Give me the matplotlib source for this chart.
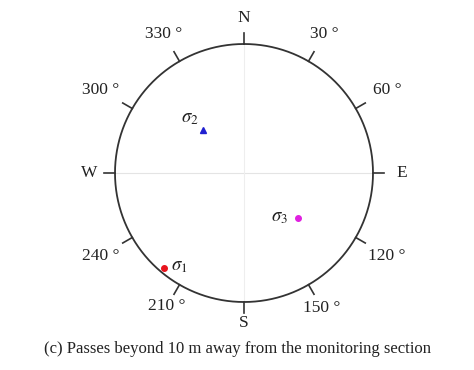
import numpy as np
import matplotlib
matplotlib.use("Agg")
import matplotlib.pyplot as plt

# data: principal stress directions (trend, plunge in degrees)
stress_names = ["$\\sigma_1$", "$\\sigma_2$", "$\\sigma_3$"]
trends = [220.0, 316.0, 130.0]
plunges = [2.2, 40.6, 32.8]
colors = ["#e8141e", "#2020d0", "#e020e0"]
markers = ["o", "^", "o"]

tick_angles = [30, 60, 120, 150, 210, 240, 300, 330]
tick_labels = ["30 °", "60 °", "120 °", "150 °", "210 °", "240 °", "300 °", "330 °"]
cardinal_angles = [0, 90, 180, 270]
cardinal_labels = ["N", "E", "S", "W"]
caption = "(c) Passes beyond 10 m away from the monitoring section"

plt.rcParams["font.family"] = ["Liberation Serif", "DejaVu Serif"]
plt.rcParams["mathtext.fontset"] = "stix"

W, H = 474, 370
cx, cy, R = 244, 173, 129
fig = plt.figure(figsize=(W / 100, H / 100), dpi=100)
ax = fig.add_axes([0, 0, 1, 1])
ax.set_xlim(-cx / R, (W - cx) / R)
ax.set_ylim(-(H - cy) / R, cy / R)
ax.axis("off")

def proj(az, r):
    a = np.radians(az)
    return r * np.sin(a), r * np.cos(a)

# faint crosshair
ax.plot([-1, 1], [0, 0], color="#e4e4e4", lw=0.8, zorder=1)
ax.plot([0, 0], [-1, 1], color="#eeeeee", lw=0.8, zorder=1)

# circle
t = np.linspace(0, 360, 721)
xs, ys = proj(t, 1.0)
ax.plot(xs, ys, color="#333333", lw=1.3, zorder=2)

tl = 11 / R
label_r = {30: 1.245, 60: 1.28, 120: 1.28, 150: 1.21, 210: 1.19, 240: 1.28, 300: 1.285, 330: 1.245}
for a, lab in zip(tick_angles, tick_labels):
    x0, y0 = proj(a, 1.0)
    x1, y1 = proj(a, 1.0 + tl)
    ax.plot([x0, x1], [y0, y1], color="#333333", lw=1.2)
    xl, yl = proj(a, label_r[a])
    ax.text(xl, yl, lab, ha="center", va="center", fontsize=12.5, color="#222222")

card_r = {0: 1.2, 90: 1.22, 180: 1.165, 270: 1.2}
for a, lab in zip(cardinal_angles, cardinal_labels):
    x0, y0 = proj(a, 1.0)
    x1, y1 = proj(a, 1.0 + tl)
    ax.plot([x0, x1], [y0, y1], color="#333333", lw=1.2)
    xl, yl = proj(a, card_r[a])
    ax.text(xl, yl, lab, ha="center", va="center", fontsize=12.5, color="#222222")

# stress points (equal-angle projection)
label_offsets = [(15, 2), (-13, 12), (-18, 1)]
for name, tr, pl, c, m, (dx, dy) in zip(stress_names, trends, plunges, colors, markers, label_offsets):
    r = np.tan(np.radians((90 - pl) / 2))
    x, y = proj(tr, r)
    ax.plot(x, y, marker=m, color=c, markersize=4, ls="none", zorder=3)
    ax.annotate(name, (x, y), xytext=(dx, dy), textcoords="offset pixels",
                ha="center", va="center", fontsize=13.5, color="#222222")

fig.text(237 / W, 1 - 349 / H, caption, ha="center", va="center", fontsize=12, color="#222222")

fig.savefig("out.png", dpi=100)
